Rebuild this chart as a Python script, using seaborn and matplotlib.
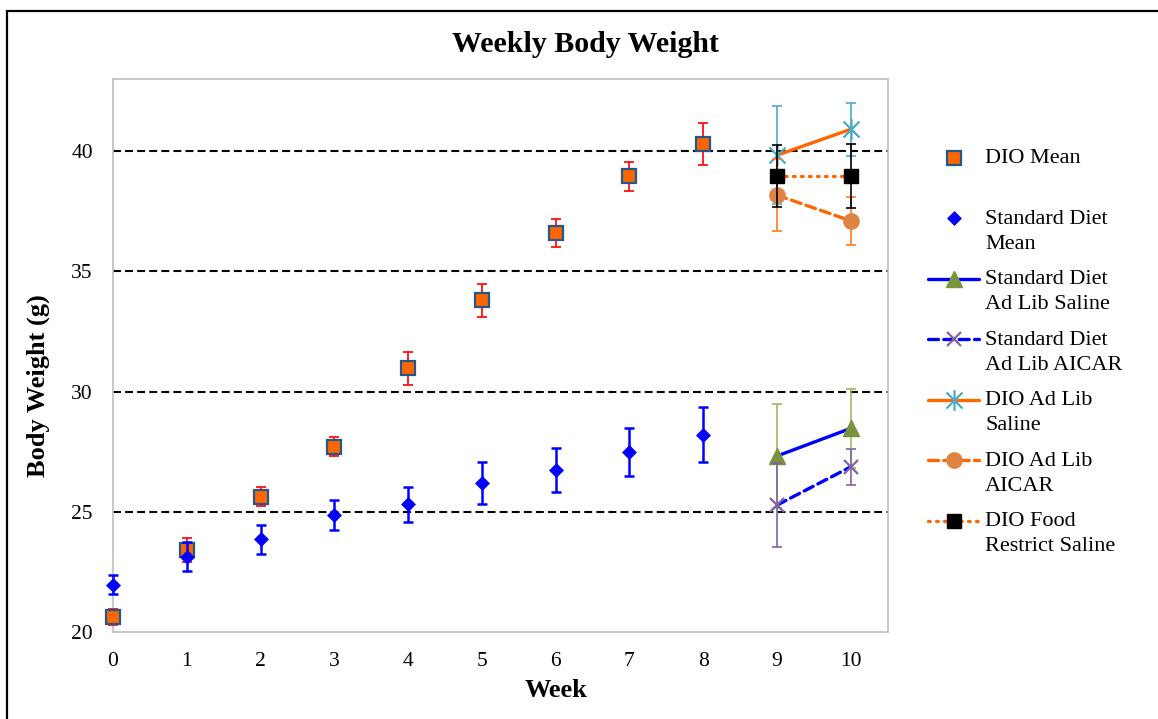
import numpy as np
import matplotlib
matplotlib.use("Agg")
import matplotlib.pyplot as plt
import seaborn as sns
from matplotlib.path import Path
from matplotlib.legend_handler import HandlerLine2D
from matplotlib.patches import Rectangle

# ---- data -------------------------------------------------------------
weeks = [0, 1, 2, 3, 4, 5, 6, 7, 8]
dio_mean = [20.62, 23.41, 25.63, 27.71, 30.96, 33.80, 36.60, 38.95, 40.30]
dio_err = [0.33, 0.48, 0.40, 0.38, 0.70, 0.68, 0.59, 0.60, 0.86]
sd_mean = [21.96, 23.13, 23.85, 24.87, 25.31, 26.21, 26.74, 27.48, 28.20]
sd_err = [0.40, 0.60, 0.60, 0.63, 0.72, 0.87, 0.90, 1.00, 1.15]

treat_weeks = [9, 10]
sd_saline = [27.32, 28.47]
sd_saline_err = [2.15, 1.63]
sd_aicar = [25.28, 26.87]
sd_aicar_err = [1.76, 0.75]
dio_saline = [39.83, 40.91]
dio_saline_err = [2.04, 1.10]
dio_aicar = [38.17, 37.10]
dio_aicar_err = [1.50, 1.00]
dio_restrict = [38.96, 38.96]
dio_restrict_err = [1.30, 1.32]

x_ticks = [0, 1, 2, 3, 4, 5, 6, 7, 8, 9, 10]
y_ticks = [20, 25, 30, 35, 40]
grid_levels = [25, 30, 35, 40]

# ---- style ------------------------------------------------------------
sns.set_theme(style="white")
plt.rcParams["font.family"] = ["Liberation Serif", "DejaVu Serif"]
plt.rcParams["text.color"] = "black"
plt.rcParams["axes.labelcolor"] = "black"

BLUE = "#0000FF"
ORANGE = "#FF6600"
GRAY = "#BFBFBF"

fig = plt.figure(figsize=(11.58, 7.19), dpi=100)
ax = fig.add_axes([113 / 1158, 1 - 632 / 719, (887.7 - 113) / 1158, (632 - 79) / 719])

# outer chart border
fig.patches.append(Rectangle((7 / 1158, -0.02), 1.0, 1 - 10.5 / 719 + 0.02,
                             transform=fig.transFigure, fill=False,
                             edgecolor="black", linewidth=1.6, zorder=0))

# horizontal dashed reference lines
for g in grid_levels:
    ax.axhline(g, color="black", linewidth=1.5, linestyle=(0, (3.8, 2.0)), zorder=1)

# asterisk marker: an X crossed by a vertical stroke
star = Path([(-1, -1), (1, 1), (-1, 1), (1, -1), (0, -1.3), (0, 1.3)],
            [Path.MOVETO, Path.LINETO, Path.MOVETO, Path.LINETO, Path.MOVETO, Path.LINETO])

eb_kw = dict(fmt="none", elinewidth=1.3, capsize=3.6, capthick=1.3, clip_on=False)

# weekly means
ax.errorbar(weeks, dio_mean, yerr=dio_err, ecolor="#FF1010", zorder=3, **eb_kw)
sns.lineplot(x=weeks, y=dio_mean, ax=ax, linestyle="none", marker="s", markersize=9.5,
             markerfacecolor=ORANGE, markeredgecolor="#24578A", markeredgewidth=1.6,
             color=ORANGE, label="DIO Mean\n ", zorder=4, clip_on=False)
h_dio_mean = ax.lines[-1]

ax.errorbar(weeks, sd_mean, yerr=sd_err, ecolor=BLUE, zorder=5,
            **{**eb_kw, "elinewidth": 1.8, "capthick": 1.8})
sns.lineplot(x=weeks, y=sd_mean, ax=ax, linestyle="none", marker="D", markersize=7.5,
             markerfacecolor=BLUE, markeredgecolor=BLUE, markeredgewidth=0.5,
             color=BLUE, label="Standard Diet\nMean", zorder=6, clip_on=False)
h_sd_mean = ax.lines[-1]

# treatment groups (weeks 9-10)
groups = [
    (sd_saline, sd_saline_err, "#9BBB59", BLUE, "-", "^", 11, "#77933C", "#77933C", 1.0,
     "Standard Diet\nAd Lib Saline"),
    (sd_aicar, sd_aicar_err, "#8064A2", BLUE, (0, (3.0, 1.6)), "x", 10, "none", "#8064A2", 1.6,
     "Standard Diet\nAd Lib AICAR"),
    (dio_saline, dio_saline_err, "#4BACC6", ORANGE, "-", star, 15, "none", "#4BACC6", 1.6,
     "DIO Ad Lib\nSaline"),
    (dio_aicar, dio_aicar_err, "#FF7A26", ORANGE, (0, (3.0, 1.6)), "o", 11, "#DE8444", "#DE8444", 1.0,
     "DIO Ad Lib\nAICAR"),
    (dio_restrict, dio_restrict_err, "black", ORANGE, (0, (0.5, 1.9)), "s", 10.5, "black", "black", 1.0,
     "DIO Food\nRestrict Saline"),
]
treat_handles = []
z = 7
for vals, errs, ecol, lcol, ls, mk, ms, mfc, mec, mew, lab in groups:
    ax.errorbar(treat_weeks, vals, yerr=errs, ecolor=ecol, zorder=z,
                **{**eb_kw, "elinewidth": 1.2, "capthick": 1.2})
    sns.lineplot(x=treat_weeks, y=vals, ax=ax, color=lcol, linestyle=ls, linewidth=2.4,
                 marker=mk, markersize=ms, markerfacecolor=mfc, markeredgecolor=mec,
                 markeredgewidth=mew, label=lab, zorder=z + 1, dash_capstyle="round")
    treat_handles.append(ax.lines[-1])
    z += 2

if ax.get_legend() is not None:
    ax.get_legend().remove()

# ---- axes -------------------------------------------------------------
ax.set_xlim(0, 10.5)
ax.set_ylim(20, 43)
ax.set_xticks(x_ticks)
ax.set_yticks(y_ticks)
ax.set_xticklabels([str(v) for v in x_ticks])
ax.set_yticklabels([str(v) for v in y_ticks])
for s in ax.spines.values():
    s.set_color(GRAY)
    s.set_linewidth(1.2)
    s.set_visible(True)
ax.tick_params(axis="both", which="major", direction="out", length=4.5, width=1.0,
               color=GRAY, labelsize=15.5, labelcolor="black")
ax.tick_params(axis="x", pad=10)
ax.tick_params(axis="y", pad=10)
ax.grid(False)

ax.set_xlabel("Week", fontsize=19, fontweight="bold", color="black")
ax.set_ylabel("Body Weight (g)", fontsize=19, fontweight="bold", color="black")
ax.xaxis.set_label_coords((556 - 113) / 774.7, (632 - 679) / 553)
ax.yaxis.set_label_coords((50 - 113) / 774.7, (632 - 386) / 553)
fig.suptitle("Weekly Body Weight", x=585 / 1158, y=1 - 44 / 719, va="center",
             fontsize=21.5, fontweight="bold", color="black")

# ---- legend -----------------------------------------------------------
class RaisedLine(HandlerLine2D):
    """Line handler whose sample sits on the first line of a two-line label."""

    def __init__(self, lift, **kw):
        super().__init__(**kw)
        self.lift = lift

    def create_artists(self, legend, orig_handle, xdescent, ydescent, width, height,
                       fontsize, trans):
        arts = super().create_artists(legend, orig_handle, xdescent, ydescent, width,
                                      height, fontsize, trans)
        for a in arts:
            a.set_ydata(np.asarray(a.get_ydata(), dtype=float) + self.lift)
        return arts


handles = [h_dio_mean, h_sd_mean] + treat_handles
labels = [h.get_label() for h in handles]
lift = 9.2
leg = fig.legend(handles, labels, loc="upper left",
                 bbox_to_anchor=(928 / 1158, 1 - 149 / 719),
                 frameon=False, fontsize=16, numpoints=1, handlelength=2.3,
                 handletextpad=0.27, labelspacing=0.73, borderpad=0, borderaxespad=0,
                 handler_map={h: RaisedLine(lift) for h in handles})
for t in leg.get_texts():
    t.set_linespacing(1.45)
    t.set_color("black")

fig.savefig("out.png", dpi=100)
